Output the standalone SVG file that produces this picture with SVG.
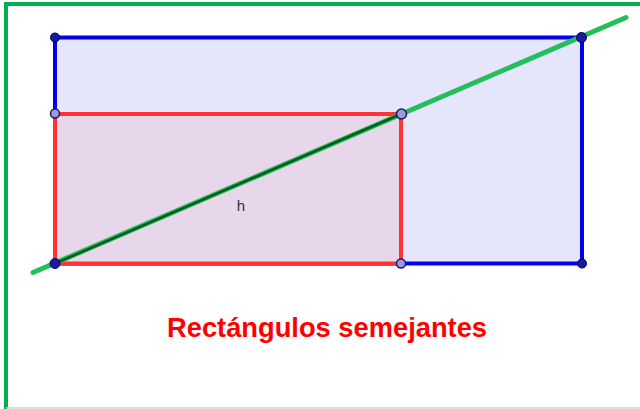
<svg xmlns="http://www.w3.org/2000/svg" width="640" height="409" viewBox="0 0 640 409">
<style>
.frame{stroke:#00b050;stroke-width:4;fill:none}
.pt-dark{fill:#1a1aa0;stroke:#000066;stroke-width:1}
.pt-light{fill:#9a9ae0;stroke:#1a1a60;stroke-width:1.5}
</style>
<rect width="640" height="409" fill="#ffffff"/>
<g id="frame">
<line class="frame" x1="6" y1="4" x2="640" y2="4"/>
<line class="frame" x1="6" y1="2" x2="6" y2="409"/>
<line x1="6" y1="408" x2="640" y2="408" stroke="#b3e6c8" stroke-width="1.5"/>
</g>
<g id="blue-rect">
<rect x="55" y="37.5" width="527" height="226" fill="#e5e5fb" stroke="#0000ee" stroke-width="4"/>
</g>
<g id="red-rect">
<rect x="55" y="114" width="346" height="149.5" fill="#e8d6eb" stroke="#ff3333" stroke-width="4"/>
</g>
<g id="connectors">
<line x1="33" y1="272.5" x2="626" y2="17.5" stroke="#22bf5a" stroke-width="5" stroke-linecap="round"/>
<line x1="55" y1="263.5" x2="401" y2="114" stroke="#0a5a1a" stroke-width="2.5"/>
</g>
<g id="points">
<circle class="pt-dark" cx="55" cy="37.5" r="4.5"/>
<circle class="pt-dark" cx="581.5" cy="37.5" r="5"/>
<circle class="pt-dark" cx="582" cy="263.5" r="4.5"/>
<circle class="pt-dark" cx="55" cy="263.5" r="5"/>
<circle class="pt-light" cx="55" cy="113.5" r="4.5"/>
<circle class="pt-light" cx="401.5" cy="114" r="5"/>
<circle class="pt-light" cx="401" cy="263.5" r="4.5"/>
</g>
<g id="label-h">
<text x="241" y="211" font-family="Liberation Sans, Arial, sans-serif" font-size="15" fill="#333333" text-anchor="middle">h</text>
</g>
<g id="title">
<text x="327" y="337" font-family="Liberation Sans, Arial, sans-serif" font-size="28" font-weight="bold" fill="#ff0000" text-anchor="middle" textLength="320" lengthAdjust="spacingAndGlyphs">Rectángulos semejantes</text>
</g>
</svg>
